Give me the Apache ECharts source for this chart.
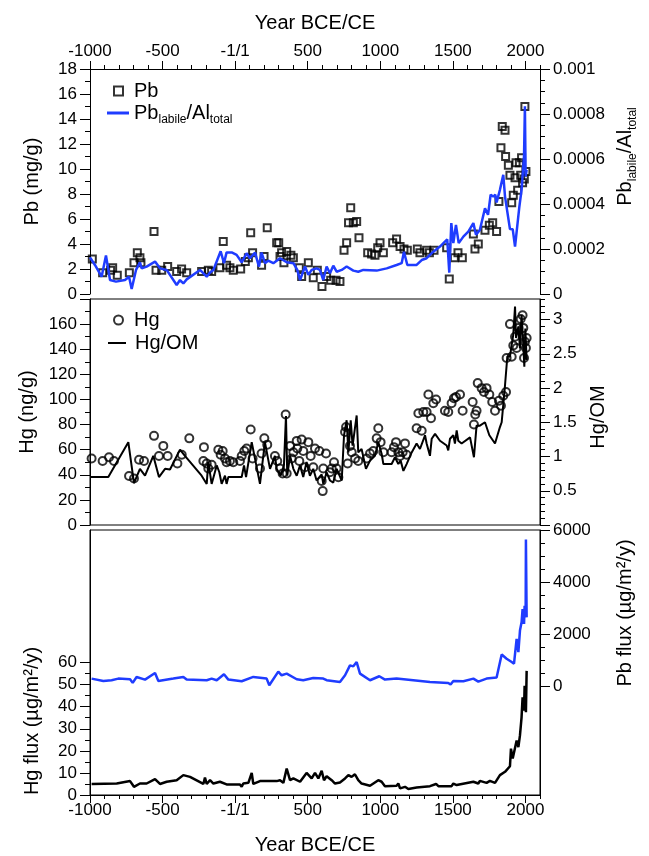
<!DOCTYPE html>
<html>
<head>
<meta charset="utf-8">
<script src="https://cdn.jsdelivr.net/npm/echarts@6/dist/echarts.min.js"></script>
<style>
	html, body { margin: 0; padding: 0; background: #fff; }
	#chart { width: 649px; height: 856px; }
</style>
</head>
<body>
<div id="chart"></div>
<script>
// tick labels
const yearTicks = [-1000, -500, 0, 500, 1000, 1500, 2000];
const yearLabels = ['-1000', '-500', '-1/1', '500', '1000', '1500', '2000'];
const pbTicks = [0, 2, 4, 6, 8, 10, 12, 14, 16, 18];
const pbAlTicks = [0, 0.0002, 0.0004, 0.0006, 0.0008, 0.001];
const hgTicks = [0, 20, 40, 60, 80, 100, 120, 140, 160];
const hgOmTicks = [0.5, 1, 1.5, 2, 2.5, 3];
const hgFluxTicks = [0, 10, 20, 30, 40, 50, 60];
const pbFluxTicks = [0, 2000, 4000, 6000];

// Pb (mg/g), squares
const pbPoints = [
	[-984, 2.8], [-913, 1.7], [-858, 1.9], [-844, 2.1], [-812, 1.5], [-729, 1.7], [-697, 2.5], [-674, 3.3], [-656, 2.9], [-649, 2.5],
	[-559, 5.0], [-545, 1.9], [-506, 1.9], [-465, 2.2], [-403, 1.8], [-369, 2.0], [-334, 1.7],
	[-231, 1.8], [-185, 1.9], [-162, 1.8], [-105, 2.1], [-82, 4.2], [-59, 2.3], [-36, 2.1], [-13, 1.9],
	[38, 2.0], [70, 2.6], [91, 2.9], [107, 4.9], [120, 3.3], [182, 2.3], [199, 3.0], [221, 5.3],
	[286, 4.1], [300, 4.1], [309, 3.0], [320, 3.3], [336, 2.5], [355, 3.4], [384, 3.1], [401, 2.9],
	[442, 2.1], [458, 1.4], [504, 2.5], [538, 1.3], [566, 1.9], [598, 0.6], [630, 1.4], [658, 1.1], [695, 1.1], [722, 1.0],
	[750, 3.5], [768, 4.1], [781, 5.7], [796, 6.9], [814, 5.7], [837, 5.8], [853, 4.5],
	[913, 3.3], [940, 3.2], [963, 3.1], [982, 3.7], [998, 4.1], [1021, 3.3],
	[1085, 4.1], [1112, 4.4], [1136, 3.8], [1163, 3.6], [1186, 3.5],
	[1255, 3.6], [1273, 3.3], [1319, 3.5], [1338, 3.3], [1370, 3.5],
	[1457, 3.7], [1475, 1.2], [1510, 2.9], [1535, 3.3], [1565, 2.9], [1641, 4.8], [1652, 3.6], [1675, 4.0],
	[1721, 5.1], [1751, 5.5], [1774, 5.7], [1801, 5.0], [1817, 7.4], [1831, 11.7], [1840, 13.4], [1859, 13.1], [1863, 11.0],
	[1882, 10.3], [1893, 9.5], [1905, 7.3], [1916, 7.9], [1928, 9.3], [1935, 10.5], [1946, 8.3],
	[1958, 10.5], [1967, 9.5], [1973, 10.9], [1980, 8.9], [1992, 9.2], [1996, 15.0], [2003, 9.8]
];

// Pb labile / Al total, blue line
const pbAlPoints = [
	[-1000, 0.000163], [-966, 0.000129], [-920, 0.000077], [-890, 0.000171], [-862, 0.000062], [-821, 0.000055],
	[-759, 0.000062], [-731, 0.000077], [-713, 0.000022], [-683, 0.000107], [-656, 0.000141], [-644, 0.000114],
	[-610, 0.000122], [-552, 0.000144], [-518, 0.000114], [-472, 0.000107], [-403, 0.000040], [-380, 0.000062],
	[-357, 0.000047], [-334, 0.000065], [-242, 0.000107], [-196, 0.000077], [-173, 0.000096], [-150, 0.000107],
	[-100, 0.000190], [-77, 0.000137], [-59, 0.000185], [-24, 0.000185], [10, 0.000174], [45, 0.000141],
	[79, 0.000181], [102, 0.000159], [137, 0.000184], [164, 0.000122], [182, 0.000184], [205, 0.000137],
	[228, 0.000148], [263, 0.000137], [309, 0.000159], [355, 0.000141], [401, 0.000137], [428, 0.000107],
	[447, 0.000062], [481, 0.000122], [504, 0.000085], [527, 0.000107], [561, 0.000114], [584, 0.000107],
	[607, 0.000062], [630, 0.000122], [653, 0.000092], [676, 0.000126], [699, 0.000099], [734, 0.000107],
	[768, 0.000122], [814, 0.000104], [848, 0.000099], [883, 0.000107], [975, 0.000104], [986, 0.000110],
	[1044, 0.000114], [1112, 0.000129], [1147, 0.000137], [1163, 0.000188], [1186, 0.000129], [1250, 0.000129],
	[1285, 0.000151], [1319, 0.000159], [1365, 0.000188], [1411, 0.000211], [1445, 0.000233], [1461, 0.000243],
	[1475, 0.000095], [1489, 0.000315], [1503, 0.000226], [1521, 0.000307], [1540, 0.000226], [1572, 0.000255],
	[1606, 0.000277], [1641, 0.000315], [1659, 0.000263], [1686, 0.000285], [1721, 0.000381], [1742, 0.000352],
	[1760, 0.000441], [1778, 0.000433], [1792, 0.000441], [1801, 0.000407], [1824, 0.000463], [1847, 0.000530],
	[1859, 0.000433], [1893, 0.000289], [1912, 0.000288], [1928, 0.000211], [1958, 0.000389], [1973, 0.000463],
	[1990, 0.000614], [1996, 0.000834], [2001, 0.000522], [2008, 0.000552]
];

// Hg (ng/g), circles
const hgPoints = [
	[-989, 53], [-913, 51], [-869, 54], [-835, 51], [-731, 39], [-697, 37], [-662, 52], [-628, 51],
	[-559, 71], [-525, 55], [-495, 63], [-465, 55], [-398, 49], [-368, 56], [-316, 69],
	[-219, 51], [-215, 62], [-196, 49], [-185, 45], [-162, 48], [-116, 60], [-100, 56], [-86, 59],
	[-70, 53], [-59, 50], [-36, 51], [-13, 50], [33, 51], [45, 55], [63, 59], [79, 61], [107, 76], [120, 53],
	[171, 45], [182, 57], [201, 69], [221, 64], [274, 55], [290, 51], [309, 45], [327, 41], [348, 88],
	[355, 41], [378, 63], [389, 53], [401, 58], [424, 67], [428, 61], [442, 51], [458, 68], [469, 59],
	[481, 46], [504, 66], [520, 55], [538, 46], [550, 61], [580, 59], [596, 35], [603, 27], [607, 45],
	[626, 57], [653, 42], [665, 45], [681, 50], [699, 45], [711, 38], [757, 74], [764, 78], [775, 49],
	[791, 63], [803, 58], [826, 53], [848, 51], [906, 53], [929, 57], [952, 59], [975, 69], [986, 77],
	[1002, 66], [1021, 58], [1078, 58], [1094, 62], [1108, 66], [1124, 58], [1136, 55], [1154, 58],
	[1170, 65], [1181, 56], [1250, 77], [1262, 89], [1285, 75], [1296, 90], [1319, 90], [1331, 104],
	[1349, 85], [1365, 97], [1384, 100], [1445, 91], [1468, 90], [1491, 97], [1507, 101], [1521, 102],
	[1549, 104], [1567, 91], [1636, 98], [1645, 80], [1654, 88], [1663, 91], [1671, 113], [1698, 109],
	[1714, 106], [1732, 109], [1751, 104], [1771, 98], [1790, 91], [1817, 99], [1831, 95], [1847, 103],
	[1866, 106], [1870, 133], [1893, 160], [1905, 134], [1916, 143], [1928, 150], [1939, 141], [1951, 157],
	[1967, 164], [1980, 167], [1985, 157], [1990, 133], [1996, 146], [2003, 141], [2008, 149]
];

// Hg / OM, black line
const hgOmPoints = [
	[-1000, 0.70], [-874, 0.70], [-736, 1.21], [-697, 0.61], [-656, 0.82], [-621, 0.72], [-564, 1.01],
	[-525, 0.70], [-483, 0.82], [-449, 0.81], [-380, 1.10], [-346, 1.01], [-231, 0.72], [-196, 0.60],
	[-185, 0.92], [-162, 0.60], [-127, 0.87], [-109, 0.77], [-93, 0.60], [-70, 0.72], [-59, 0.60],
	[-47, 0.70], [45, 0.70], [61, 0.87], [75, 0.70], [114, 1.21], [171, 0.60], [205, 1.21], [240, 0.82],
	[274, 1.01], [286, 0.82], [313, 0.72], [336, 0.87], [350, 1.59], [359, 0.72], [378, 1.01], [401, 0.82],
	[424, 0.72], [447, 0.87], [469, 0.70], [492, 0.92], [515, 0.72], [538, 0.82], [561, 0.65], [596, 0.74],
	[607, 0.60], [630, 0.77], [653, 0.65], [676, 0.62], [699, 0.82], [734, 0.65], [750, 1.31], [768, 1.53],
	[780, 1.06], [796, 1.53], [809, 1.16], [837, 1.60], [848, 1.06], [871, 1.11], [901, 0.82], [929, 0.94],
	[963, 1.01], [986, 1.21], [1009, 1.04], [1021, 0.89], [1078, 0.89], [1101, 0.99], [1124, 0.89],
	[1140, 0.94], [1159, 0.79], [1181, 0.89], [1216, 1.06], [1250, 1.19], [1273, 1.11], [1308, 1.31],
	[1319, 1.19], [1342, 1.01], [1354, 1.26], [1377, 1.33], [1411, 1.23], [1457, 1.16], [1468, 1.09],
	[1480, 1.26], [1503, 1.31], [1514, 1.19], [1526, 1.38], [1537, 1.23], [1560, 1.19], [1618, 1.28],
	[1645, 0.99], [1663, 1.45], [1686, 1.45], [1721, 1.50], [1751, 1.31], [1790, 1.19], [1824, 1.43],
	[1836, 1.50], [1859, 2.04], [1875, 2.46], [1893, 2.46], [1905, 2.63], [1916, 2.78], [1928, 3.19],
	[1935, 2.73], [1951, 2.90], [1962, 2.58], [1973, 3.07], [1985, 2.63], [1992, 2.31], [1999, 2.87], [2008, 2.41]
];

// Pb flux (µg/m²/y), blue line
const pbFluxPoints = [
	[-989, 280], [-908, 191], [-851, 217], [-805, 280], [-724, 255], [-706, 115], [-679, 344], [-621, 242],
	[-552, 497], [-529, 191], [-426, 280], [-357, 344], [-334, 242], [-196, 217], [-162, 280], [-127, 217],
	[-77, 446], [-47, 242], [45, 178], [125, 344], [217, 280], [235, 25], [297, 548], [320, 408], [355, 471],
	[424, 255], [469, 217], [538, 306], [607, 280], [630, 217], [722, 153], [757, 408], [791, 790], [814, 752],
	[837, 917], [860, 471], [929, 217], [993, 370], [1032, 242], [1112, 280], [1227, 217], [1342, 153],
	[1468, 115], [1484, 51], [1503, 191], [1572, 178], [1641, 280], [1675, 166], [1732, 280], [1801, 319],
	[1836, 1210], [1870, 1045], [1905, 917], [1921, 854], [1939, 1809], [1951, 1299], [1962, 2128],
	[1973, 2446], [1980, 2956], [1990, 2382], [1994, 3083], [2001, 2637], [2003, 5631], [2008, 2637]
];

// Hg flux (µg/m²/y), black line
const hgFluxPoints = [
	[-989, 5.0], [-816, 5.2], [-724, 6.3], [-697, 3.7], [-656, 5.2], [-610, 5.2], [-552, 7.2], [-518, 5.0],
	[-472, 6.0], [-403, 6.7], [-357, 9.0], [-311, 8.2], [-219, 5.0], [-208, 7.9], [-196, 5.0], [-173, 6.7],
	[-150, 5.2], [-105, 6.0], [-59, 4.8], [33, 4.8], [45, 3.7], [56, 5.2], [91, 5.5], [114, 10.0], [125, 5.0],
	[171, 6.3], [286, 6.3], [309, 6.7], [332, 5.5], [355, 12.0], [378, 6.7], [401, 7.5], [447, 6.0],
	[492, 10.0], [527, 7.5], [550, 10.0], [573, 7.5], [596, 11.0], [612, 6.7], [630, 8.5], [665, 6.7],
	[688, 5.2], [722, 5.7], [757, 7.5], [780, 9.0], [802, 8.2], [825, 9.4], [848, 6.7], [871, 5.2],
	[929, 4.2], [986, 6.7], [1009, 6.0], [1032, 4.0], [1112, 4.2], [1124, 5.2], [1136, 3.0], [1170, 3.7],
	[1193, 2.7], [1250, 3.4], [1342, 4.0], [1384, 5.0], [1400, 4.0], [1491, 4.0], [1503, 5.2], [1526, 4.5],
	[1641, 6.0], [1675, 5.2], [1686, 6.4], [1732, 5.5], [1755, 6.4], [1790, 5.5], [1824, 9.0], [1859, 10.5],
	[1893, 13.0], [1900, 21.0], [1912, 16.5], [1939, 24.7], [1951, 21.7], [1962, 27.0], [1973, 35.2],
	[1980, 44.2], [1990, 38.2], [1994, 49.5], [2003, 37.5], [2008, 56.2]
];

const FONT = '"Liberation Sans", Arial, sans-serif';
const BLUE = '#1f3cff';
const BLACK = '#000';

let tickText = { color: BLACK, fontSize: 17, fontFamily: FONT };
let nameText = { color: BLACK, fontSize: 20, fontFamily: FONT };
let subRich = {
	a: { color: BLACK, fontSize: 20, fontFamily: FONT, lineHeight: 26 },
	s: { color: BLACK, fontSize: 12, fontFamily: FONT, lineHeight: 12, verticalAlign: 'bottom' }
};

// minor tick positions between from and to, skipping the labelled ones
function minorTicks(from, to, step, major) {
	let out = [];
	for (let i = 0; from + i * step <= to + step / 1000; i++) {
		let v = +(from + i * step).toFixed(8);
		if (!major.some(m => Math.abs(m - v) < step / 100)) out.push(v);
	}
	return out;
}

function axis(o) {
	return {
		type: 'value',
		gridIndex: o.grid,
		position: o.pos,
		min: o.min,
		max: o.max,
		axisLine: { show: !!o.line, onZero: false, lineStyle: { color: BLACK, width: 1 } },
		axisTick: {
			show: !!o.ticks,
			customValues: o.ticks,
			length: o.tickLen || 10,
			lineStyle: { color: BLACK, width: 1 }
		},
		axisLabel: Object.assign({
			show: !!o.labels,
			customValues: o.labels,
			margin: o.margin || 13,
			formatter: o.formatter || (v => String(v))
		}, tickText),
		splitLine: { show: false },
		name: o.name,
		nameLocation: 'middle',
		nameGap: o.nameGap,
		nameTextStyle: o.nameStyle
	};
}

let yearFormat = v => yearLabels[yearTicks.indexOf(v)];
let yearMinor = minorTicks(-1000, 2100, 100, yearTicks);

let xAxes = [
	// panel 1 top axis
	axis({ grid: 0, pos: 'top', min: -1000, max: 2100, line: true, ticks: yearTicks, tickLen: 8, labels: yearTicks, formatter: yearFormat, margin: 9, name: 'Year BCE/CE', nameGap: 36, nameStyle: nameText }),
	axis({ grid: 0, pos: 'top', min: -1000, max: 2100, ticks: yearMinor, tickLen: 4 }),
	// panel 2
	axis({ grid: 1, pos: 'bottom', min: -1000, max: 2100 }),
	// panel 3 bottom axis
	axis({ grid: 2, pos: 'bottom', min: -1000, max: 2100, line: true, ticks: yearTicks, tickLen: 8, labels: yearTicks, formatter: yearFormat, margin: 7, name: 'Year BCE/CE', nameGap: 40, nameStyle: nameText }),
	axis({ grid: 2, pos: 'bottom', min: -1000, max: 2100, ticks: yearMinor, tickLen: 4 })
];

let yAxes = [
	// panel 1
	axis({ grid: 0, pos: 'left', min: 0, max: 18, line: true, ticks: pbTicks, labels: pbTicks, name: 'Pb (mg/g)', nameGap: 48, nameStyle: nameText }),
	axis({ grid: 0, pos: 'left', min: 0, max: 18, ticks: minorTicks(0, 18, 1, pbTicks), tickLen: 5 }),
	axis({ grid: 0, pos: 'right', min: 0, max: 0.001, line: true, ticks: pbAlTicks, labels: pbAlTicks, name: '{a|Pb}{s|labile}{a|/Al}{s|total}', nameGap: 72, nameStyle: { rich: subRich, padding: [0, 0, 0, 50] } }),
	axis({ grid: 0, pos: 'right', min: 0, max: 0.001, ticks: minorTicks(0, 0.001, 0.00005, pbAlTicks), tickLen: 5 }),
	// panel 2
	axis({ grid: 1, pos: 'left', min: 0, max: 180, line: true, ticks: hgTicks.concat([180]), labels: hgTicks, name: 'Hg (ng/g)', nameGap: 48, nameStyle: nameText }),
	axis({ grid: 1, pos: 'left', min: 0, max: 180, ticks: minorTicks(0, 180, 10, hgTicks.concat([180])), tickLen: 5 }),
	axis({ grid: 1, pos: 'right', min: 0, max: 3.3, line: true, ticks: [0].concat(hgOmTicks), labels: hgOmTicks, name: 'Hg/OM', nameGap: 48, nameStyle: Object.assign({ padding: [0, 10, 0, 0] }, nameText) }),
	axis({ grid: 1, pos: 'right', min: 0, max: 3.3, ticks: minorTicks(0, 3.3, 0.1, [0].concat(hgOmTicks)), tickLen: 5 }),
	// panel 3
	axis({ grid: 2, pos: 'left', min: 0, max: 120, line: true, ticks: hgFluxTicks, labels: hgFluxTicks, name: 'Hg flux (µg/m²/y)', nameGap: 48, nameStyle: Object.assign({ padding: [0, 117, 0, 0] }, nameText) }),
	axis({ grid: 2, pos: 'left', min: 0, max: 120, ticks: minorTicks(0, 60, 5, hgFluxTicks), tickLen: 5 }),
	axis({ grid: 2, pos: 'right', min: -4200, max: 6000, line: true, ticks: pbFluxTicks, labels: pbFluxTicks, name: 'Pb flux (µg/m²/y)', nameGap: 75, nameStyle: Object.assign({ padding: [0, 0, 0, 99] }, nameText) }),
	axis({ grid: 2, pos: 'right', min: -4200, max: 6000, ticks: minorTicks(0, 6000, 500, pbFluxTicks), tickLen: 5 })
];

let legendNames = {
	Pb: 'Pb',
	PbAl: '{a|Pb}{s|labile}{a|/Al}{s|total}',
	Hg: 'Hg',
	HgOM: 'Hg/OM'
};

function legend(name, left, top, w, h, pad, icon) {
	let item = { name: name };
	if (icon) item.icon = icon;
	return {
		data: [item],
		left: left,
		top: top,
		orient: 'vertical',
		itemWidth: w,
		itemHeight: h,
		padding: 0,
		selectedMode: false,
		formatter: n => legendNames[n],
		textStyle: Object.assign({ padding: [0, 0, 0, pad], rich: subRich }, nameText)
	};
}

let option = {
	animation: false,
	backgroundColor: '#fff',
	grid: [
		{ left: 90, top: 69, width: 450, height: 225 },
		{ left: 90, top: 299, width: 450, height: 226, show: true, borderColor: BLACK, borderWidth: 1 },
		{ left: 90, top: 530, width: 450, height: 267, show: true, borderColor: BLACK, borderWidth: 1 }
	],
	xAxis: xAxes,
	yAxis: yAxes,
	legend: [
		legend('Pb', 113, 81, 9, 9, 6),
		legend('PbAl', 107, 103, 22, 3, 0, 'rect'),
		legend('Hg', 113, 310, 9, 9, 6),
		legend('HgOM', 108, 333, 18, 2, 4, 'rect')
	],
	series: [
		{
			name: 'Pb', type: 'scatter', xAxisIndex: 0, yAxisIndex: 0, data: pbPoints,
			symbol: 'rect', symbolSize: 7, z: 2,
			itemStyle: { color: 'rgba(0,0,0,0)', borderColor: BLACK, borderWidth: 2 }
		},
		{
			name: 'PbAl', type: 'line', xAxisIndex: 0, yAxisIndex: 2, data: pbAlPoints,
			symbol: 'none', z: 3,
			itemStyle: { color: BLUE },
			lineStyle: { color: BLUE, width: 2.5 }
		},
		{
			name: 'Hg', type: 'scatter', xAxisIndex: 2, yAxisIndex: 4, data: hgPoints,
			symbol: 'circle', symbolSize: 8, z: 3,
			itemStyle: { color: 'rgba(0,0,0,0)', borderColor: BLACK, borderWidth: 2 }
		},
		{
			name: 'HgOM', type: 'line', xAxisIndex: 2, yAxisIndex: 6, data: hgOmPoints,
			symbol: 'none', z: 2,
			itemStyle: { color: BLACK },
			lineStyle: { color: BLACK, width: 2 }
		},
		{
			name: 'Pb flux', type: 'line', xAxisIndex: 3, yAxisIndex: 10, data: pbFluxPoints,
			symbol: 'none',
			lineStyle: { color: BLUE, width: 2.5 }
		},
		{
			name: 'Hg flux', type: 'line', xAxisIndex: 3, yAxisIndex: 8, data: hgFluxPoints,
			symbol: 'none',
			lineStyle: { color: BLACK, width: 2.5 }
		}
	]
};

let myChart = echarts.init(document.getElementById('chart'), null, { renderer: 'canvas' });
myChart.setOption(option);
</script>
</body>
</html>
